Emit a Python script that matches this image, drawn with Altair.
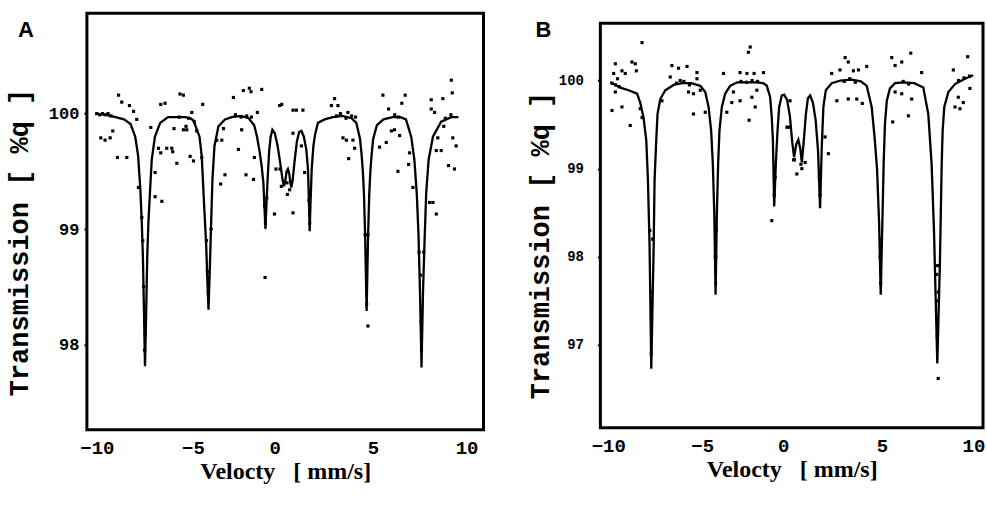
import altair as alt
import pandas as pd

# ---------------- Panel A ----------------
a_fit_x = [-10.1, -9.5, -9.0, -8.55, -8.2, -7.95, -7.8, -7.68, -7.6, -7.54,
           -7.48, -7.43, -7.37, -7.31, -7.25, -7.17, -7.07, -6.9, -6.62, -6.2,
           -5.8, -5.3, -5.0, -4.84, -4.52, -4.40, -4.28, -4.16, -4.10, -4.04,
           -3.98, -3.92, -3.83, -3.72, -3.51, -3.16, -2.8, -2.3, -1.9, -1.6,
           -1.45, -1.3, -1.2, -1.11, -1.05, -1.0, -0.95, -0.88, -0.80, -0.72,
           -0.63, -0.5, -0.35, -0.2, -0.08, -0.01, 0.06, 0.13, 0.2, 0.27,
           0.33, 0.38, 0.45, 0.55, 0.68, 0.8, 0.92, 1.05, 1.18, 1.27,
           1.32, 1.36, 1.41, 1.47, 1.56, 1.65, 1.8, 2.16, 2.6, 3.1,
           3.6, 3.85, 4.05, 4.13, 4.2, 4.26, 4.32, 4.4, 4.48, 4.54,
           4.6, 4.67, 4.75, 4.95, 5.3, 5.8, 6.2, 6.5, 6.78, 6.95,
           7.08, 7.17, 7.25, 7.33, 7.41, 7.49, 7.58, 7.71, 7.94, 8.38,
           8.92, 9.3]
a_fit_y = [100.00, 99.99, 99.97, 99.95, 99.91, 99.80, 99.64, 99.35, 99.05, 98.75,
           98.25, 97.81, 98.25, 98.76, 99.05, 99.30, 99.60, 99.80, 99.92, 99.97,
           99.97, 99.97, 99.96, 99.94, 99.80, 99.63, 99.23, 98.85, 98.55, 98.30,
           98.60, 98.94, 99.43, 99.72, 99.89, 99.95, 99.97, 99.98, 99.96, 99.90,
           99.80, 99.66, 99.54, 99.40, 99.18, 99.00, 99.20, 99.45, 99.68, 99.80,
           99.86, 99.83, 99.72, 99.56, 99.42, 99.37, 99.42, 99.50, 99.52, 99.48,
           99.40, 99.36, 99.42, 99.58, 99.76, 99.84, 99.85, 99.80, 99.69, 99.52,
           99.25, 98.98, 99.25, 99.52, 99.72, 99.82, 99.92, 99.95, 99.97, 99.98,
           99.96, 99.92, 99.78, 99.65, 99.50, 99.30, 98.95, 98.29, 98.95, 99.30,
           99.50, 99.65, 99.78, 99.90, 99.95, 99.97, 99.97, 99.95, 99.80, 99.60,
           99.30, 98.95, 98.45, 97.80, 98.45, 98.88, 99.31, 99.60, 99.80, 99.93,
           99.97, 99.97]

a_pts_x = [-8.84, -8.67, -8.26, -8.04, -7.87, -9.79, -9.56, -9.29, -9.15, -8.90,
           -8.40, -7.12, -6.59, -6.36, -5.56, -5.38, -4.93, -4.35, -6.89, -6.89,
           -6.53, -6.71, -6.59, -6.27, -6.00, -5.95, -5.73, -5.02, -4.84, -4.40,
           -5.88, -5.38, -5.24, -5.20, -4.67, -2.71, -2.18, -1.86, -1.77, -1.20,
           -0.13, -2.44, -2.27, -3.24, -3.60, -3.33, -3.16, -3.39, -2.04, -1.64,
           -1.59, -1.43, -0.93, -0.52, -1.02, -0.44, -0.22, 0.17, 0.47, 0.65,
           1.00, 2.69, 2.52, 2.87, 3.40, 3.81, 3.14, 3.32, 3.67, 3.76,
           3.44, 5.27, 5.57, 6.28, 6.46, 7.85, 8.47, 8.92, 8.97, 7.85,
           8.03, 5.72, 5.89, 5.45, 5.09, 6.16, 6.69, 6.64, 6.07, 6.87,
           7.76, 7.94, 8.20, 8.12, 8.38, 9.00, 9.18, 8.77, 9.09, 8.52,
           4.47, 8.12, -0.24, 0.47, 0.47, 0.92, 0.15, -0.15, 0.29, 1.09,
           -7.78, -4.10, -7.45, -7.42, -4.05, 7.33, 7.31, 4.40, 1.36, -1.00,
           -7.50, 7.28, -10.0, -9.85, -9.7, -9.55, -9.4, -9.25, -5.6, -5.1,
           -4.8, -2.6, -2.3, -2.0, -1.75, 2.8, 3.0, 3.3, 3.6, 6.1,
           5.9, 8.6, 8.9, -7.6, -7.55, -4.15, -3.9, 4.32, 4.47, 7.2,
           7.45, -1.05, 1.32, 1.40]
a_pts_y = [100.16, 100.10, 100.07, 100.02, 99.95, 99.79, 99.77, 99.79, 99.85, 99.62,
           99.62, 99.88, 100.08, 100.09, 100.17, 100.16, 100.01, 100.08, 99.49, 99.28,
           99.24, 99.70, 99.66, 99.70, 99.70, 99.67, 99.57, 99.63, 99.59, 99.62,
           99.87, 99.86, 99.89, 99.86, 99.85, 100.14, 100.20, 100.22, 100.19, 100.21,
           100.08, 99.69, 99.86, 99.87, 99.77, 99.77, 99.47, 99.39, 99.47, 99.43,
           99.62, 100.01, 99.27, 99.13, 98.58, 99.52, 99.52, 99.30, 99.14, 100.03,
           100.03, 100.13, 100.07, 100.07, 100.01, 99.97, 99.79, 99.77, 99.77, 99.70,
           99.61, 100.16, 100.04, 100.09, 100.16, 100.12, 100.13, 100.29, 100.18, 100.04,
           100.01, 99.85, 99.86, 99.75, 99.71, 99.81, 99.66, 99.56, 99.50, 99.36,
           99.23, 99.23, 99.79, 99.68, 99.68, 99.79, 99.72, 99.55, 99.52, 99.89,
           98.16, 99.13, 100.07, 100.03, 99.83, 99.72, 99.40, 99.37, 99.34, 99.49,
           99.36, 98.63, 97.95, 98.10, 98.45, 97.95, 98.20, 98.35, 99.05, 99.05,
           98.50, 98.60, 100.00, 99.99, 100.00, 99.99, 100.00, 99.98, 99.97, 99.96,
           99.93, 99.99, 99.97, 99.98, 99.97, 99.98, 100.00, 99.96, 99.98, 99.97,
           99.99, 99.96, 99.99, 99.10, 98.90, 98.90, 99.00, 98.95, 98.95, 98.80,
           98.80, 99.20, 99.25, 99.30]

# ---------------- Panel B ----------------
b_fit_x = [-9.89, -9.35, -8.9, -8.44, -8.27, -8.09, -7.94, -7.85, -7.76, -7.67,
           -7.54, -7.49, -7.40, -7.33, -7.18, -6.91, -6.46, -6.0, -5.5, -5.01,
           -4.74, -4.56, -4.42, -4.33, -4.25, -4.18, -4.11, -4.04, -3.97, -3.84,
           -3.66, -3.39, -3.0, -2.0, -1.6, -1.40, -1.22, -1.13, -1.07, -1.00,
           -0.91, -0.82, -0.73, -0.59, -0.46, -0.3, -0.15, -0.02, 0.08, 0.2,
           0.31, 0.42, 0.50, 0.6, 0.72, 0.83, 0.95, 1.1, 1.25, 1.38,
           1.49, 1.58, 1.67, 1.80, 2.12, 2.6, 3.2, 3.7, 4.02, 4.29,
           4.45, 4.58, 4.69, 4.78, 4.87, 4.94, 5.01, 5.11, 5.28, 5.56,
           6.0, 6.6, 7.09, 7.36, 7.54, 7.67, 7.85, 7.99, 8.09, 8.14,
           8.23, 8.45, 8.81, 9.35, 9.80]
b_fit_y = [99.98, 99.92, 99.89, 99.85, 99.75, 99.58, 99.32, 98.87, 98.11, 96.73,
           98.11, 98.87, 99.32, 99.62, 99.79, 99.89, 99.95, 99.97, 99.97, 99.94,
           99.87, 99.70, 99.43, 99.06, 98.49, 97.57, 98.49, 99.06, 99.43, 99.70,
           99.85, 99.94, 99.98, 99.98, 99.97, 99.94, 99.81, 99.58, 99.32, 98.57,
           99.06, 99.43, 99.70, 99.83, 99.84, 99.78, 99.60, 99.30, 99.13, 99.28,
           99.33, 99.22, 99.07, 99.30, 99.62, 99.80, 99.83, 99.75, 99.55, 99.20,
           98.55, 99.24, 99.70, 99.89, 99.97, 100.00, 100.01, 99.99, 99.94, 99.70,
           99.35, 99.00, 98.40, 97.57, 98.40, 99.06, 99.51, 99.77, 99.91, 99.97,
           99.98, 99.97, 99.92, 99.62, 99.06, 98.30, 96.79, 97.92, 99.06, 99.43,
           99.70, 99.87, 99.96, 100.02, 100.06]

b_pts_x = [-8.17, -9.62, -9.71, -9.26, -9.08, -8.72, -8.54, -8.48, -9.62, -9.80,
           -9.26, -8.81, -8.27, -8.17, -6.55, -6.19, -5.73, -5.19, -5.19, -6.64,
           -6.10, -5.65, -5.38, -5.01, -7.09, -5.38, -4.74, -3.75, -2.85, -2.48,
           -2.09, -1.58, -2.30, -2.40, -3.21, -3.30, -3.57, -2.85, -2.21, -2.03,
           -2.36, -1.94, -1.13, -0.31, -0.14, -0.23, 0.23, 0.68, 1.94, 1.76,
           2.85, 3.02, 2.12, 2.57, 3.30, 3.57, 4.02, 2.40, 3.02, 3.48,
           3.78, 5.38, 5.56, 5.92, 6.41, 7.00, 5.56, 5.92, 6.46, 6.28,
           5.43, 8.72, 9.50, 8.99, 9.26, 9.08, 9.62, 8.81, 7.90, -7.67,
           -7.66, -7.70, -4.18, -4.17, 4.78, 7.85, 7.84, 7.86, -1.00, 1.49,
           0.10, 0.45, -9.8, -9.6, -9.4, -9.5, -6.3, -5.9, -5.6, -2.8,
           -2.5, -2.2, -1.9, 2.8, 3.1, 3.4, 6.0, 6.3, 9.0, 9.3,
           9.6, -7.75, -7.6, -4.2, -4.14, 4.75, 4.82, 7.82, 7.9, -0.95,
           1.45, 0.05, 0.5]
b_pts_y = [100.43, 100.19, 100.08, 100.11, 100.08, 100.21, 100.19, 100.11, 99.87, 99.66,
           99.70, 99.49, 99.68, 99.58, 100.17, 100.14, 100.16, 100.09, 100.02, 100.04,
           100.00, 99.87, 99.85, 99.89, 99.77, 99.62, 99.64, 100.08, 100.09, 100.08,
           100.08, 100.09, 100.38, 100.32, 99.87, 99.75, 99.64, 99.77, 99.81, 99.70,
           99.55, 99.89, 98.41, 99.47, 99.77, 99.47, 98.94, 99.07, 99.17, 99.36,
           100.26, 100.21, 100.08, 100.12, 100.11, 100.12, 100.16, 99.77, 99.79, 99.79,
           99.74, 100.26, 100.17, 100.21, 100.31, 100.09, 99.87, 99.85, 99.79, 99.60,
           99.53, 100.12, 100.27, 99.81, 99.75, 99.68, 99.91, 99.70, 96.62, 96.90,
           97.30, 97.60, 97.70, 98.00, 97.70, 97.10, 97.50, 97.90, 98.70, 98.70,
           99.10, 99.05, 99.97, 99.95, 99.93, 100.02, 99.97, 99.99, 99.95, 99.99,
           99.98, 100.00, 99.99, 99.99, 100.02, 99.98, 99.99, 99.96, 100.00, 100.03,
           100.05, 98.30, 98.20, 98.00, 98.30, 98.00, 98.20, 97.80, 97.60, 98.90,
           98.90, 99.10, 99.00]

x_ticks = [-10, -5, 0, 5, 10]
a_y_ticks = [98, 99, 100]
b_y_ticks = [97, 98, 99, 100]
# small shifts of the printed tick labels in the original
a_label_shift = [0, 2.5, -9.5, -5, -5]
b_label_shift = [0, 1.7, -9.5, -2.8, -3.5]

X_TITLE = "Velocty\u00a0\u00a0\u00a0[ mm/s]"
Y_TITLE = "Transmission [ %q ]"


def shift_cond(shifts):
    conds = [{"test": f"datum.value == {v}", "value": s}
             for v, s in zip(x_ticks, shifts) if s != 0]
    return {"condition": conds, "value": 0}


def panel(fit_x, fit_y, pts_x, pts_y, xdom, ydom, yrange, yticks, w, h, letter,
          letter_x, letter_y, ylab_size, ylab_pad, title_x, title_y, frame, shifts):
    fit = pd.DataFrame({"v": fit_x, "t": fit_y})
    pts = pd.DataFrame({"v": pts_x, "t": pts_y})
    xs = alt.Scale(domain=xdom, nice=False, zero=False)
    ys = alt.Scale(domain=ydom, range=yrange, nice=False, zero=False)
    xax = alt.Axis(values=x_ticks, format="d", domain=False, ticks=False, grid=False,
                   labelFont="Liberation Mono", labelFontWeight="bold", labelFontSize=19,
                   labelColor="black", labelPadding=9, labelOffset=shift_cond(shifts),
                   titleFont="Liberation Serif", titleFontWeight="bold", titleFontSize=24,
                   titleColor="black", titlePadding=2)
    yax = alt.Axis(values=yticks, format="d", domain=False, ticks=True, tickSize=3,
                   tickWidth=2, tickColor="black", grid=False,
                   labelFont="Liberation Mono", labelFontWeight="bold",
                   labelFontSize=ylab_size, labelColor="black", labelPadding=ylab_pad,
                   titleFont="Liberation Mono", titleFontWeight="bold", titleFontSize=27,
                   titleColor="black", titleX=title_x, titleY=title_y)
    line = alt.Chart(fit).mark_line(color="black", strokeWidth=2.3).encode(
        x=alt.X("v:Q", scale=xs, axis=xax, title=X_TITLE),
        y=alt.Y("t:Q", scale=ys, axis=yax, title=Y_TITLE),
    )
    dots = alt.Chart(pts).mark_square(size=10, color="black", opacity=1).encode(
        x=alt.X("v:Q", scale=xs),
        y=alt.Y("t:Q", scale=ys),
    )
    lab = alt.Chart(pd.DataFrame({"s": [letter]})).mark_text(
        font="Liberation Sans", fontWeight="bold", fontSize=22, color="black",
        align="left", baseline="alphabetic"
    ).encode(text="s:N", x=alt.value(letter_x), y=alt.value(letter_y))
    layers = [line, dots, lab]
    props = dict(width=w, height=h)
    if frame:
        fr = alt.Chart(pd.DataFrame({"s": [0]})).mark_rect(
            fillOpacity=0, stroke="black", strokeWidth=3).encode(
            x=alt.value(0), x2=alt.value(w), y=alt.value(frame), y2=alt.value(h))
        layers = [fr] + layers
        props["view"] = alt.ViewBackground(stroke="transparent")
    return alt.layer(*layers).properties(**props)


pa = panel(a_fit_x, a_fit_y, a_pts_x, a_pts_y, [-10.53, 10.64], [97.26, 100.87],
           [417, 0], a_y_ticks, 397, 417, "A", -69, 24, 17, 5, -53.5, 229, None,
           a_label_shift)
pb = panel(b_fit_x, b_fit_y, b_pts_x, b_pts_y, [-10.43, 10.33], [96.06, 100.65],
           [415, 10], b_y_ticks, 383, 415, "B", -65, 24, 14, 14, -45.5, 232, 10,
           b_label_shift)

chart = alt.hconcat(pa, pb, spacing=40).properties(
    padding={"left": 4, "top": 11, "right": 0, "bottom": 0},
    background="white",
).configure_view(stroke="black", strokeWidth=3)

chart.save("out.html", embed_options={"renderer": "svg", "actions": False})
